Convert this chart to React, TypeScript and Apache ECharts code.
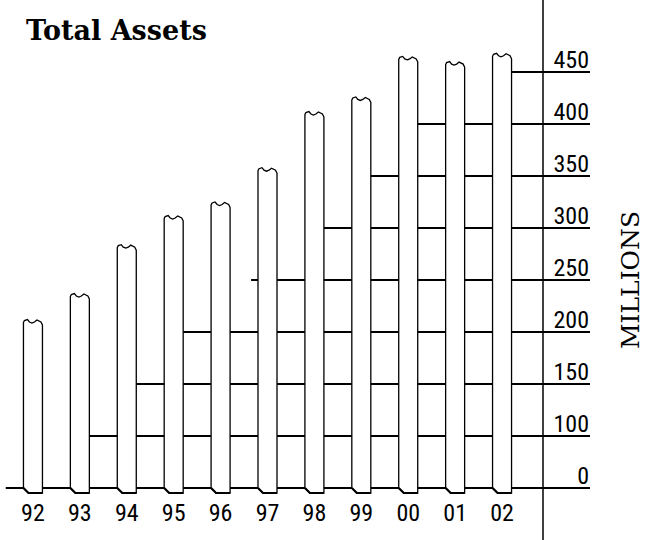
import React, { useEffect, useRef } from "react";
import * as echarts from "echarts";

// Fiscal years (category axis)
const years = ["92", "93", "94", "95", "96", "97", "98", "99", "00", "01", "02"];
// Total assets, millions
const totalAssets = [212, 237, 284, 312, 325, 358, 412, 426, 465, 460, 468];
// Axis is broken: the baseline (labelled "0") sits where 50 would be
const axisFloor = 50;
const axisMax = 450;
const axisStep = 50;
// Horizontal rules (axis values) and the category position where each begins
const ruleValues = [50, 100, 150, 200, 250, 300, 350, 400, 450];
const ruleStarts = [-0.58, 1.2, 2.2, 3.2, 4.65, 6.2, 7.2, 7.85, 10.2];

const LABEL_FONT = "'Roboto Condensed', 'DejaVu Sans Condensed', sans-serif";

export default function App() {
  const ref = useRef<HTMLDivElement>(null);
  useEffect(() => {
    if (!ref.current) return;
    const chart = echarts.init(ref.current, undefined, { renderer: "svg" });
    const option: any = {
      animation: false,
      backgroundColor: "#ffffff",
      title: {
        text: "Total Assets",
        left: 21,
        top: 12,
        textStyle: {
          fontFamily: "'DejaVu Serif', serif",
          fontWeight: 900,
          fontSize: 27,
          color: "#000",
        },
      },
      grid: { left: 9.5, right: 127.5, top: 72, bottom: 52 },
      xAxis: {
        type: "category",
        data: years,
        axisLine: { show: false },
        axisTick: { show: false },
        axisLabel: {
          margin: 13,
          fontFamily: LABEL_FONT,
          fontSize: 24,
          color: "#000",
        },
      },
      yAxis: {
        type: "value",
        position: "right",
        offset: 17.5,
        min: axisFloor,
        max: axisMax,
        interval: axisStep,
        axisLine: { show: false },
        axisTick: { show: false },
        splitLine: { show: false },
        axisLabel: {
          align: "right",
          verticalAlign: "bottom",
          margin: 46,
          fontFamily: LABEL_FONT,
          fontSize: 24,
          color: "#000",
          formatter: (v: number) => (v === axisFloor ? "0" : String(v)),
        },
        name: "MILLIONS",
        nameLocation: "middle",
        nameRotate: 90,
        nameGap: 75,
        nameTextStyle: {
          fontFamily: "'DejaVu Serif', serif",
          fontSize: 25,
          color: "#000",
        },
      },
      graphic: [
        {
          type: "line",
          shape: { x1: 543, y1: 0, x2: 543, y2: 540 },
          style: { stroke: "#000", lineWidth: 1.5 },
          z: 100,
        },
      ],
      series: [
        {
          type: "custom",
          z: 1,
          data: ruleValues.map((v, i) => [ruleStarts[i], v]),
          renderItem: (params: any, api: any) => {
            const start = api.value(0);
            const v = api.value(1);
            const p0 = api.coord([0, v]);
            const p1 = api.coord([1, v]);
            const band = p1[0] - p0[0];
            const xs = p0[0] + start * band;
            return {
              type: "line",
              shape: { x1: xs, y1: p0[1], x2: 590, y2: p0[1] },
              style: { stroke: "#000", lineWidth: 2 },
            };
          },
        },
        {
          type: "custom",
          z: 5,
          data: totalAssets.map((v, i) => [i, v]),
          renderItem: (params: any, api: any) => {
            const idx = api.value(0);
            const v = api.value(1);
            const top = api.coord([idx, v]);
            const base = api.coord([idx, axisFloor]);
            const cx = top[0];
            const ty = top[1];
            const by = base[1];
            const hw = 9.5;
            const x0 = cx - hw;
            const x1 = cx + hw;
            const outline = [
              [x0, by],
              [x0, ty + 3],
              [x0 + 1, ty + 1],
              [x0 + 4, ty],
              [x0 + 6, ty + 2.5],
              [x0 + 8.5, ty + 3.5],
              [x0 + 11, ty + 2.5],
              [x0 + 13.5, ty + 0.5],
              [x1 - 1.5, ty + 2.5],
              [x1, ty + 5.5],
              [x1, by + 5],
              [x0 + 5, by + 5],
            ];
            return {
              type: "group",
              children: [
                {
                  type: "polygon",
                  shape: { points: outline },
                  style: { fill: "#fff", stroke: "#000", lineWidth: 1.3 },
                },
                {
                  type: "polyline",
                  shape: { points: [[x0, by], [x0 + 5, by + 5], [x1, by + 5]] },
                  style: { fill: "none", stroke: "#000", lineWidth: 2.2 },
                },
              ],
            };
          },
        },
      ],
    };
    chart.setOption(option);
    return () => chart.dispose();
  }, []);
  return (
    <div
      ref={ref}
      style={{ position: "fixed", left: 0, top: 0, width: 653, height: 540, background: "#fff" }}
    />
  );
}
